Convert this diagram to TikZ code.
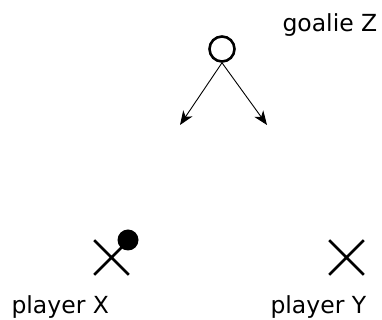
\documentclass[tikz,border=0pt]{standalone}
\usepackage{fontspec}
\setmainfont{DejaVu Sans}
\usetikzlibrary{positioning,shapes.misc,arrows.meta}

\begin{document}
\begin{tikzpicture}[x=1pt, y=1pt,
  every node/.style={font=\fontsize{23.5}{28}\selectfont},
  player/.style={cross out, draw, line width=2.6pt, minimum size=32pt, inner sep=0pt},
  keeper/.style={circle, draw, line width=2.6pt, minimum size=25pt, inner sep=0pt},
  ball/.style={circle, fill, minimum size=21pt, inner sep=0pt},
  move/.style={-{Stealth[length=14pt, width=11pt, inset=4pt]}, line width=0.9pt}]
\useasboundingbox (0,0) rectangle (382,320);

\def\xa{111.5};
\def\xb{222};
\def\xc{346.5};

\def\ya{62.5};
\def\yb{271};

\node(z) [keeper] at (\xb, \yb) {};
\node(px) [player] at (\xa, \ya) {};
\node(py) [player] at (\xc, \ya) {};
\node(b) [ball] at (\xa + 16.5, \ya + 17.5) {};

\coordinate(zl) at (180, 195);
\coordinate(zr) at (267, 195);

\draw[move] (z.south) -- (zl);
\draw[move] (z.south) -- (zr);

\node [anchor=base west] at (279, 288) {goalie Z};
\node [anchor=base west] at (8, 6.5) {player X};
\node [anchor=base west] at (267, 6.5) {player Y};

\end{tikzpicture}
\end{document}
